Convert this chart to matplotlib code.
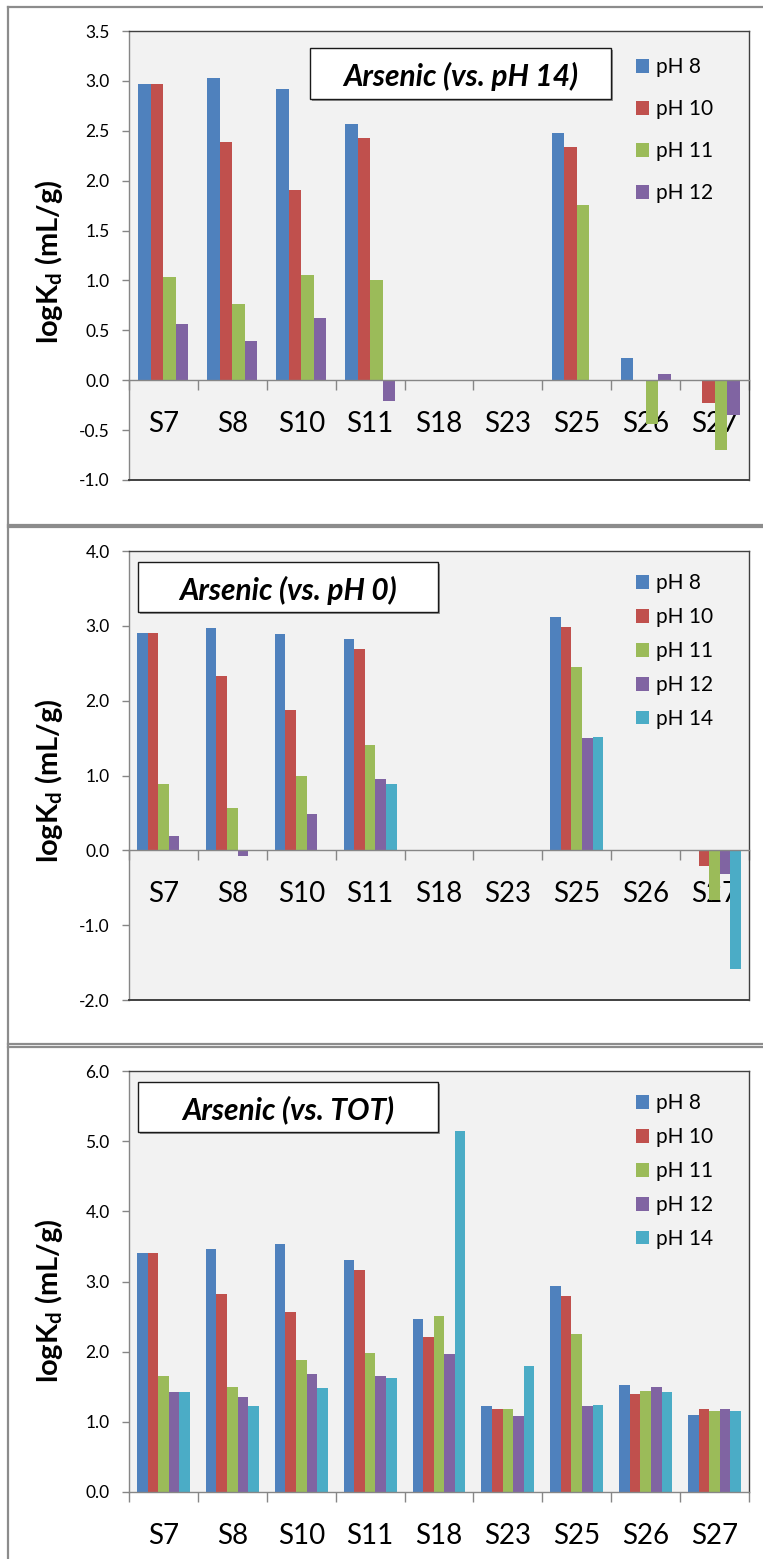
"""
Arsenic logKd by soil sample and pH, three stacked panels (vs. pH 14, vs. pH 0, vs. TOT).
"""

import numpy as np
import matplotlib
matplotlib.use("Agg")
import matplotlib.pyplot as plt
from matplotlib.patches import Rectangle
from matplotlib.lines import Line2D
from matplotlib.ticker import FixedLocator, FormatStrFormatter
import matplotlib.patheffects as pe


# -------------------------------------------------
# Data
# -------------------------------------------------

samples = ["S7", "S8", "S10", "S11", "S18", "S23", "S25", "S26", "S27"]

nan = np.nan

# Panel 1: Arsenic (vs. pH 14)
p14_labels = ["pH 8", "pH 10", "pH 11", "pH 12"]
p14_ph8 = [2.97, 3.03, 2.92, 2.57, nan, nan, 2.48, 0.22, nan]
p14_ph10 = [2.97, 2.39, 1.91, 2.43, nan, nan, 2.34, nan, -0.23]
p14_ph11 = [1.03, 0.76, 1.05, 1.00, nan, nan, 1.76, -0.44, -0.70]
p14_ph12 = [0.56, 0.39, 0.62, -0.21, nan, nan, nan, 0.06, -0.35]

# Panel 2: Arsenic (vs. pH 0)
p0_labels = ["pH 8", "pH 10", "pH 11", "pH 12", "pH 14"]
p0_ph8 = [2.90, 2.97, 2.89, 2.83, nan, nan, 3.12, nan, nan]
p0_ph10 = [2.90, 2.33, 1.87, 2.69, nan, nan, 2.99, nan, -0.21]
p0_ph11 = [0.88, 0.56, 0.99, 1.41, nan, nan, 2.45, nan, -0.66]
p0_ph12 = [0.19, -0.08, 0.49, 0.95, nan, nan, 1.50, nan, -0.32]
p0_ph14 = [nan, nan, nan, 0.89, nan, nan, 1.51, nan, -1.59]

# Panel 3: Arsenic (vs. TOT)
tot_labels = ["pH 8", "pH 10", "pH 11", "pH 12", "pH 14"]
tot_ph8 = [3.40, 3.46, 3.54, 3.30, 2.47, 1.22, 2.94, 1.52, 1.10]
tot_ph10 = [3.40, 2.82, 2.56, 3.16, 2.21, 1.19, 2.80, 1.40, 1.19]
tot_ph11 = [1.65, 1.50, 1.88, 1.98, 2.51, 1.19, 2.25, 1.44, 1.16]
tot_ph12 = [1.42, 1.35, 1.68, 1.65, 1.96, 1.08, 1.23, 1.49, 1.18]
tot_ph14 = [1.42, 1.22, 1.48, 1.62, 5.14, 1.79, 1.24, 1.42, 1.15]


# -------------------------------------------------
# Style
# -------------------------------------------------

plt.rcParams["font.family"] = ["Lato", "DejaVu Sans"]
plt.rcParams["mathtext.fontset"] = "custom"
plt.rcParams["mathtext.rm"] = "Lato"
plt.rcParams["mathtext.bf"] = "Lato:bold"
plt.rcParams["axes.unicode_minus"] = False

colors = ["#4F81BD", "#C0504D", "#9BBB59", "#8064A2", "#4BACC6"]
axis_gray = "#868686"
border_dark = "#404040"
plot_fill = "#F2F2F2"
frame_gray = "#8C8C8C"

W, H = 763, 1559
fig = plt.figure(figsize=(W / 100, H / 100), dpi=100)


def fx(px):
    return px / W


def fy(py):
    return 1 - py / H


# -------------------------------------------------
# Outer panel frames
# -------------------------------------------------

for y in [7, 524.5, 526.5, 1043.5, 1046.5]:
    fig.add_artist(Line2D([fx(8), 1.0], [fy(y), fy(y)], color=frame_gray, lw=1.6))
fig.add_artist(Line2D([fx(8), fx(8)], [fy(7), 0.0], color=frame_gray, lw=1.6))


# -------------------------------------------------
# Panel builder
# -------------------------------------------------

def draw_panel(top, bottom, ylim, yticks, series, labels, title, box, leg_y,
               leg_step, frame_top):
    left, right = 129, 749
    ax = fig.add_axes([fx(left), fy(bottom), fx(right - left), (bottom - top) / H])
    ax.set_facecolor(plot_fill)

    x = np.arange(len(samples))
    n = len(series)
    width = 1 / (n + 1.5)
    for i, (vals, lab) in enumerate(zip(series, labels)):
        ax.bar(x + (i - (n - 1) / 2) * width, vals, width=width,
               color=colors[i], label=lab, zorder=2)

    ax.set_xlim(-0.5, len(samples) - 0.5)
    ax.set_ylim(*ylim)
    ax.set_yticks(yticks)
    ax.yaxis.set_major_formatter(FormatStrFormatter("%.1f"))
    ax.tick_params(axis="y", direction="out", length=5, width=1,
                   color=axis_gray, labelsize=12.5, pad=9)

    # category boundaries as tick marks, names at the centres
    ax.xaxis.set_major_locator(FixedLocator(np.arange(-0.5, len(samples), 1)))
    ax.xaxis.set_major_formatter(plt.NullFormatter())
    ax.xaxis.set_minor_locator(FixedLocator(x))
    ax.set_xticklabels(samples, minor=True)
    ax.tick_params(axis="x", which="major", direction="out", length=7.5,
                   width=1, color=axis_gray)
    ax.tick_params(axis="x", which="minor", length=0, labelsize=20, pad=22)

    ax.spines["left"].set_color(axis_gray)
    ax.spines["bottom"].set_color(axis_gray)
    ax.spines["bottom"].set_position(("data", 0))
    ax.spines["top"].set_color(border_dark)
    ax.spines["right"].set_color(border_dark)
    for s in ["top", "right", "left", "bottom"]:
        ax.spines[s].set_linewidth(1)
    if ylim[0] < 0:
        ax.axhline(ylim[0], color=border_dark, lw=1.4, clip_on=False, zorder=3)

    # y label
    fig.text(fx(49), fy(frame_top + 255), r"logK$_\mathbf{d}$ (mL/g)",
             rotation=90, ha="center", va="center", fontsize=21,
             fontweight="bold")

    # title box
    bx0, by0, bx1, by1 = box
    rect = Rectangle((fx(bx0), fy(by1)), fx(bx1 - bx0), (by1 - by0) / H,
                     transform=fig.transFigure, facecolor="white",
                     edgecolor="#1a1a1a", lw=1, zorder=5,
                     path_effects=[pe.withSimplePatchShadow(offset=(1.5, -1.5),
                                                            shadow_rgbFace="#7f7f7f",
                                                            alpha=0.8)])
    fig.add_artist(rect)
    fig.text(fx((bx0 + bx1) / 2), fy((by0 + by1) / 2 + 3), title,
             ha="center", va="center", fontsize=21.5, fontweight="bold",
             style="italic", zorder=6)

    # legend
    ax.legend(loc="upper left",
              bbox_to_anchor=((636 - left) / (right - left),
                              (bottom - (leg_y - 8)) / (bottom - top)),
              frameon=False, fontsize=15, borderaxespad=0, borderpad=0,
              handlelength=0.6, handleheight=0.65, handletextpad=0.35,
              labelspacing=leg_step)
    return ax


draw_panel(31, 480, (-1.0, 3.5), np.arange(-1.0, 3.51, 0.5),
           [p14_ph8, p14_ph10, p14_ph11, p14_ph12], p14_labels,
           "Arsenic (vs. pH 14)", (310, 48, 611, 99), 65, 1.06, 7)

draw_panel(551, 1000, (-2.0, 4.0), np.arange(-2.0, 4.01, 1.0),
           [p0_ph8, p0_ph10, p0_ph11, p0_ph12, p0_ph14], p0_labels,
           "Arsenic (vs. pH 0)", (138, 562, 438, 612), 581, 0.67, 526)

draw_panel(1071, 1492, (0.0, 6.0), np.arange(0.0, 6.01, 1.0),
           [tot_ph8, tot_ph10, tot_ph11, tot_ph12, tot_ph14], tot_labels,
           "Arsenic (vs. TOT)", (138, 1082, 438, 1132), 1101, 0.67, 1046)


# -------------------------------------------------
# Save Figure
# -------------------------------------------------

fig.savefig("out.png", dpi=100)
